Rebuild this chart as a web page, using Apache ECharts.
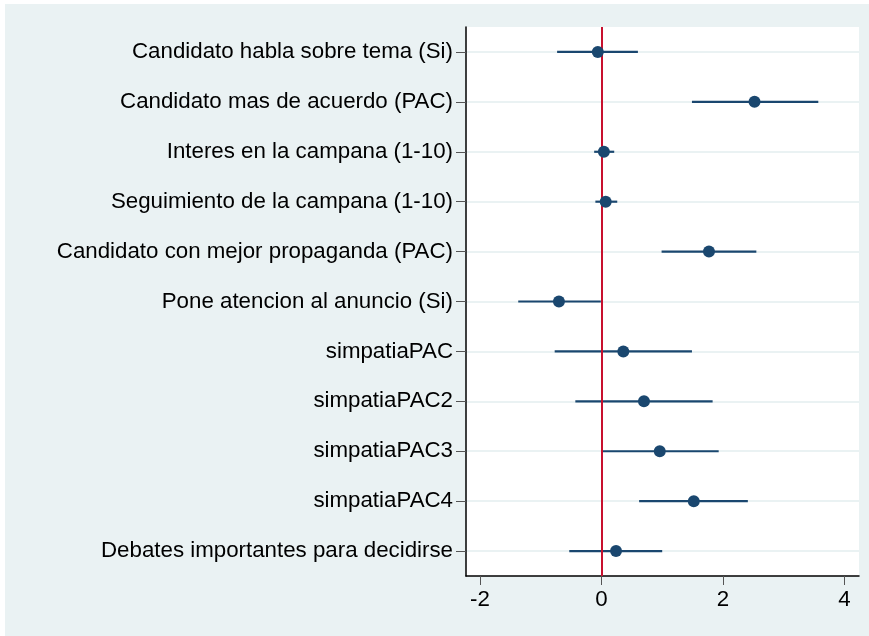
<!DOCTYPE html>
<html>
<head>
<meta charset="utf-8">
<script src="https://cdn.jsdelivr.net/npm/echarts@6/dist/echarts.min.js"></script>
<style>
  html, body { margin: 0; padding: 0; background: #ffffff; }
  #wrap { position: absolute; left: 5px; top: 4px; width: 864px; height: 632px; background: #EAF2F3; }
  #chart { position: absolute; left: 0; top: 0; width: 869px; height: 636px; }
</style>
</head>
<body>
<div id="wrap"></div>
<div id="chart"></div>
<script>
const categories = [
  'Candidato habla sobre tema (Si)',
  'Candidato mas de acuerdo (PAC)',
  'Interes en la campana (1-10)',
  'Seguimiento de la campana (1-10)',
  'Candidato con mejor propaganda (PAC)',
  'Pone atencion al anuncio (Si)',
  'simpatiaPAC',
  'simpatiaPAC2',
  'simpatiaPAC3',
  'simpatiaPAC4',
  'Debates importantes para decidirse'
];
const estimates = [-0.06, 2.52, 0.04, 0.07, 1.77, -0.70, 0.36, 0.70, 0.96, 1.52, 0.24];
const lower     = [-0.73, 1.49, -0.12, -0.10, 0.99, -1.37, -0.77, -0.43, 0.01, 0.62, -0.53];
const upper     = [0.60, 3.57, 0.21, 0.26, 2.55, -0.01, 1.49, 1.83, 1.93, 2.41, 1.00];
const xTicks = [-2, 0, 2, 4];

const navy = '#1A476F';
const chart = echarts.init(document.getElementById('chart'), null, {renderer: 'canvas'});
const ciData = categories.map((c, i) => [i, lower[i], upper[i]]);
chart.setOption({
  backgroundColor: 'transparent',
  animation: false,
  grid: { left: 466, right: 10, top: 27, bottom: 60, backgroundColor: '#ffffff', show: true, borderWidth: 0 },
  xAxis: {
    type: 'value', min: -2.23, max: 4.24, interval: 2,
    axisLine: { show: true, onZero: false, lineStyle: { color: '#000000', width: 1.5 } },
    axisTick: { show: true, length: 9, lineStyle: { color: '#555555', width: 1 }, customValues: xTicks },
    axisLabel: { show: true, margin: 13, fontFamily: 'Liberation Sans', fontSize: 22.3, color: '#000000', customValues: xTicks },
    splitLine: { show: false }
  },
  yAxis: {
    type: 'category', data: categories, inverse: true,
    axisLine: { show: true, onZero: false, lineStyle: { color: '#000000', width: 1.5 } },
    axisTick: { show: true, alignWithLabel: true, length: 10, lineStyle: { color: '#555555', width: 1 } },
    axisLabel: { show: true, margin: 13, fontFamily: 'Liberation Sans', fontSize: 22.3, color: '#000000' },
    splitLine: { show: true, alignWithLabel: true, lineStyle: { color: '#EAF2F3', width: 2 } }
  },
  series: [
    {
      type: 'custom',
      data: ciData,
      encode: { y: 0, x: [1, 2] },
      renderItem: function (params, api) {
        const i = api.value(0);
        const a = api.coord([api.value(1), i]);
        const b = api.coord([api.value(2), i]);
        return { type: 'line', shape: { x1: a[0], y1: a[1], x2: b[0], y2: b[1] },
                 style: { stroke: navy, lineWidth: 2.2 } };
      },
      z: 3
    },
    {
      type: 'scatter',
      data: estimates.map((v, i) => [v, i]),
      symbol: 'circle', symbolSize: 12,
      itemStyle: { color: navy, opacity: 1 },
      z: 5,
      markLine: {
        silent: true, symbol: 'none', label: { show: false },
        lineStyle: { color: '#C8102E', width: 2, type: 'solid' },
        data: [{ xAxis: 0 }]
      }
    }
  ]
});
</script>
</body>
</html>
